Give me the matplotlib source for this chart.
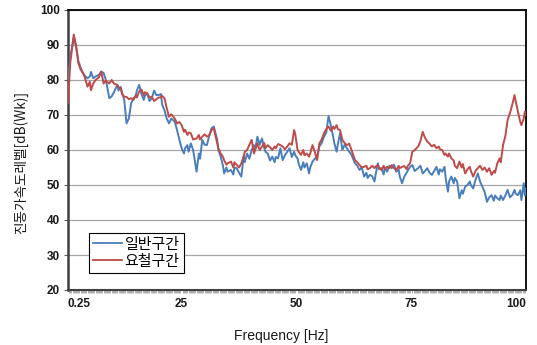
import matplotlib
matplotlib.use("Agg")
import matplotlib.pyplot as plt
from matplotlib.ticker import MultipleLocator

plt.rcParams['font.family'] = ['Liberation Sans', 'Noto Sans CJK KR', 'DejaVu Sans']

freq = [0.25, 0.75, 1.5, 2.0, 2.5, 3.0, 3.75, 4.5, 5.0, 5.25, 5.75, 6.25, 7.0, 7.5, 8.0, 8.5,
        9.25, 9.75, 10.25, 11.0, 11.25, 11.75, 12.0, 12.5, 13.0, 13.5, 14.0, 14.5, 15.0,
        15.25, 15.75, 16.25, 16.75, 17.0, 17.5, 18.0, 18.5, 19.0, 19.5, 20.0, 20.5, 20.75,
        21.25, 21.75, 22.25, 22.75, 23.5, 24.0, 24.5, 25.0, 25.5, 25.75, 26.25, 26.5, 27.0,
        27.5, 28.25, 28.75, 29.0, 29.5, 30.0, 30.5, 31.0, 31.5, 32.0, 32.75, 33.0, 33.5,
        34.0, 34.25, 34.75, 35.0, 35.75, 36.25, 36.5, 37.0, 37.5, 38.0, 38.5, 38.75, 39.25,
        39.75, 40.25, 40.75, 41.0, 41.5, 42.0, 42.5, 43.0, 43.25, 43.75, 44.25, 44.75, 45.25,
        45.5, 46.0, 46.5, 47.0, 47.5, 48.0, 48.5, 49.0, 49.5, 49.75, 50.25, 50.5, 51.0, 51.5,
        51.75, 52.25, 52.75, 53.0, 53.5, 54.0, 54.5, 55.0, 55.5, 56.0, 56.5, 57.0, 57.5, 58.0,
        58.25, 58.75, 59.0, 59.5, 60.0, 60.5, 61.0, 61.5, 62.0, 62.75, 63.25, 63.75, 64.25,
        64.75, 65.25, 65.5, 66.0, 66.5, 67.0, 67.25, 67.75, 68.0, 68.5, 69.0, 69.25, 69.75,
        70.25, 70.75, 71.25, 71.75, 72.25, 72.5, 73.0, 73.5, 74.0, 74.25, 74.75, 75.25, 75.75,
        76.5, 77.0, 77.5, 78.0, 78.5, 79.0, 79.5, 80.0, 80.5, 81.0, 81.25, 81.75, 82.25, 82.5,
        83.0, 83.25, 83.75, 84.25, 84.5, 85.0, 85.5, 86.0, 86.25, 86.75, 87.25, 87.75, 88.0,
        88.5, 89.0, 89.5, 90.0, 90.5, 91.0, 91.5, 92.0, 92.5, 93.0, 93.25, 93.75, 94.25, 94.5,
        95.0, 95.5, 96.0, 96.5, 97.0, 97.5, 97.75, 98.25, 98.75, 99.0, 99.5, 99.75, 100.0]

normal = [80.0, 86.5, 92.0, 89.5, 85.5, 83.5, 81.4, 80.5, 81.0, 82.3, 80.5, 81.0, 81.5, 82.4,
          82.0, 80.0, 74.8, 75.3, 76.5, 78.6, 77.0, 78.0, 76.5, 74.3, 67.6, 69.0, 73.3, 74.8,
          75.5, 77.0, 78.6, 76.0, 74.3, 75.5, 76.2, 74.0, 74.8, 77.0, 75.7, 75.7, 76.0, 73.0,
          71.4, 69.0, 67.6, 69.0, 68.1, 65.7, 63.0, 60.5, 59.0, 60.5, 61.4, 59.5, 61.9,
          60.0, 53.8, 59.0, 57.5, 62.9, 61.5, 61.4, 64.0, 66.2, 66.7, 62.9, 60.0, 58.1,
          55.5, 53.3, 55.0, 53.8, 54.3, 53.0, 55.0, 54.8, 53.5, 52.4, 58.1, 56.5, 59.0,
          57.5, 60.0, 61.4, 60.0, 63.8, 61.5, 63.3, 60.5, 59.5, 59.0, 57.0, 58.1, 56.5,
          58.0, 57.6, 60.5, 57.1, 58.5, 59.5, 60.5, 58.0, 59.5, 58.5, 57.6, 56.0, 54.3, 56.5,
          55.0, 56.2, 53.3, 55.0, 56.7, 57.5, 58.1, 61.0, 62.0, 63.8, 65.0, 69.7, 67.0, 63.8,
          62.0, 59.5, 61.5, 64.8, 60.0, 61.5, 60.5, 59.5, 58.6, 56.2, 55.5, 54.3, 55.0,
          52.4, 53.5, 52.0, 52.9, 52.5, 51.0, 53.0, 56.2, 54.5, 54.8, 53.0, 55.0, 53.8,
          55.5, 54.8, 55.8, 53.8, 54.5, 52.5, 50.5, 52.4, 53.5, 54.0, 55.2, 55.7, 54.0,
          54.8, 55.5, 53.3, 54.0, 54.8, 53.5, 52.9, 54.0, 55.2, 53.0, 54.5, 53.8, 55.2, 52.0,
          48.1, 51.0, 52.4, 50.5, 52.0, 51.0, 46.2, 48.5, 47.5, 49.5, 50.0, 51.0, 50.0,
          49.0, 51.5, 53.3, 51.0, 49.5, 48.0, 45.2, 46.5, 47.1, 45.5, 47.0, 46.2, 45.7, 47.0,
          45.7, 47.0, 48.6, 46.5, 47.1, 48.6, 47.5, 47.1, 48.5, 45.7, 50.5, 47.0, 49.0]

rough = [73.5, 85.0, 93.0, 90.0, 84.8, 83.0, 81.4, 78.1, 79.5, 77.1, 79.0, 80.0, 80.8, 82.4,
         79.0, 79.8, 79.0, 80.0, 79.0, 78.6, 78.0, 77.6, 76.0, 75.2, 75.2, 74.5, 74.8, 74.3,
         75.5, 75.0, 76.7, 77.3, 75.7, 76.5, 76.2, 75.0, 75.2, 74.0, 74.5, 75.0, 75.0, 75.5,
         74.8, 72.0, 69.5, 70.2, 69.0, 67.6, 68.0, 67.1, 65.2, 65.8, 64.3, 65.0, 64.8,
         63.0, 63.3, 64.3, 63.0, 63.8, 64.5, 63.8, 64.2, 65.7, 66.2, 61.9, 60.5, 59.0,
         58.0, 57.1, 55.8, 56.2, 56.7, 55.0, 56.5, 55.7, 55.0, 56.2, 58.1, 59.5, 60.0,
         61.5, 62.9, 59.0, 60.0, 61.9, 60.0, 61.0, 62.0, 60.5, 61.4, 60.8, 60.0, 61.0,
         60.5, 61.7, 61.4, 61.0, 60.2, 61.0, 61.9, 61.5, 65.7, 64.5, 60.0, 59.5, 58.6, 60.0,
         58.5, 59.0, 58.1, 59.0, 61.4, 59.5, 57.1, 61.9, 63.0, 64.8, 66.0, 66.7, 65.5, 66.7,
         66.0, 67.1, 66.0, 65.7, 62.9, 62.0, 61.4, 61.8, 60.0, 57.1, 56.5, 55.7, 55.0,
         55.2, 55.5, 54.5, 54.8, 55.5, 54.8, 55.3, 55.7, 55.0, 54.3, 55.5, 54.5, 55.2,
         54.8, 55.7, 54.8, 54.3, 55.5, 54.8, 55.2, 55.4, 54.5, 55.5, 56.2, 59.5, 60.0,
         61.0, 62.5, 65.2, 63.5, 62.4, 61.8, 61.0, 61.5, 60.5, 61.0, 60.2, 60.0, 58.6, 59.0,
         58.1, 59.0, 57.6, 57.0, 55.5, 54.8, 56.7, 55.0, 56.0, 53.3, 54.5, 55.2, 54.0,
         52.4, 54.0, 54.8, 55.5, 54.3, 55.0, 53.8, 54.8, 52.9, 54.0, 53.5, 56.2, 57.6, 56.5,
         61.4, 64.0, 68.6, 70.5, 72.9, 75.7, 74.0, 70.9, 68.0, 67.1, 69.0, 71.0, 70.0]

labels = ['일반구간', '요철구간']
xtick_vals = [0.25, 25, 50, 75, 100]
xtick_labels = ['0.25', '25', '50', '75', '100']
yticks = [20, 30, 40, 50, 60, 70, 80, 90, 100]

fig = plt.figure(figsize=(5.37, 3.45), dpi=100)
ax = fig.add_axes([68/537, 1-290/345, 458/537, 280/345])

ax.plot(freq, normal, color='#4a7ebb', lw=1.4, label=labels[0], zorder=3)
ax.plot(freq, rough, color='#be4b48', lw=1.4, label=labels[1], zorder=3)

ax.set_xlim(0.25, 100)
ax.set_ylim(20, 100)
ax.set_yticks(yticks)
ax.yaxis.grid(True, color='#a6a6a6', lw=0.9)
ax.set_axisbelow(True)

ax.set_xticks(xtick_vals)
ax.set_xticklabels(xtick_labels)
tl = ax.get_xticklabels()
tl[0].set_ha('left')
tl[-1].set_ha('right')
ax.xaxis.set_minor_locator(MultipleLocator(0.25))
ax.tick_params(axis='x', which='major', length=0, pad=6, labelsize=8.5)
ax.tick_params(axis='x', which='minor', length=2.5, width=0.4, color='#707070')
ax.tick_params(axis='y', which='major', length=3, width=0.8, color='#606060', labelsize=8.5, pad=3)
for t in ax.get_xticklabels() + ax.get_yticklabels():
    t.set_fontweight('bold')
    t.set_color('#1a1a1a')

for side in ['top', 'right']:
    ax.spines[side].set_color('black')
    ax.spines[side].set_linewidth(1.3)
ax.spines['left'].set_color('#404040')
ax.spines['left'].set_linewidth(1.8)
ax.spines['bottom'].set_color('#404040')
ax.spines['bottom'].set_linewidth(1.5)

ax.set_xlabel('Frequency [Hz]', fontsize=10, labelpad=14, color='#1a1a1a')
ax.set_ylabel('진동가속도레벨[dB(Wk)]', fontsize=9.8, labelpad=8, color='#1a1a1a',
              family=['Noto Sans CJK KR', 'DejaVu Sans'])
ax.yaxis.set_label_coords(-0.088, 0.455)
ax.xaxis.set_label_coords(0.465, -0.14)

leg = ax.legend(loc='lower left', bbox_to_anchor=(0.045, 0.06), fancybox=False,
                edgecolor='black', framealpha=1, borderpad=0.3, labelspacing=0.2,
                handlelength=1.9, handletextpad=0.2, borderaxespad=0,
                prop={'family': ['Noto Sans CJK KR', 'DejaVu Sans'], 'size': 10.8})
leg.get_frame().set_linewidth(0.8)
for h in leg.get_lines():
    h.set_linewidth(1.3)

fig.savefig('out.png', dpi=100)
